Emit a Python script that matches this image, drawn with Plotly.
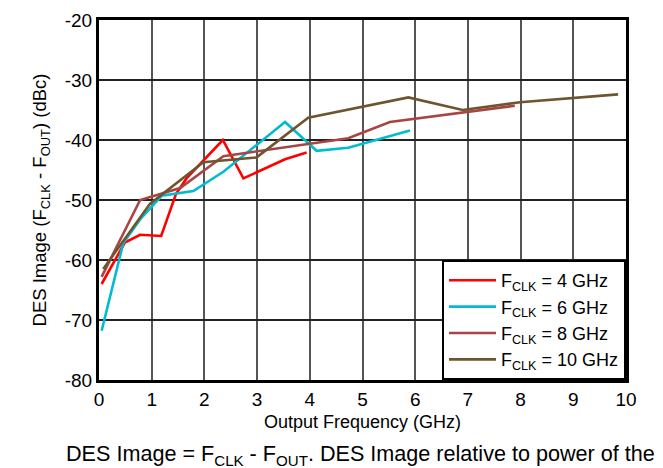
import plotly.graph_objects as go

# output frequency (GHz) / DES image (dBc) per clock rate
f_4g = [0.05, 0.49, 0.78, 1.18, 1.46, 1.66, 2.35, 2.74, 3.53, 3.94]
d_4g = [-64.0, -57.1, -55.8, -56.0, -49.0, -46.4, -40.0, -46.4, -43.2, -42.1]

f_6g = [0.05, 0.46, 0.8, 1.19, 1.79, 2.36, 3.53, 4.13, 4.73, 5.9]
d_6g = [-71.8, -57.2, -53.0, -49.3, -48.5, -45.3, -37.0, -41.8, -41.3, -38.4]

f_8g = [0.05, 0.78, 1.54, 2.36, 4.73, 5.52, 7.89]
d_8g = [-62.8, -50.0, -48.0, -42.7, -39.7, -37.0, -34.3]

f_10g = [0.08, 0.97, 1.98, 2.99, 3.97, 5.87, 6.9, 7.99, 9.85]
d_10g = [-61.5, -50.6, -43.7, -42.9, -36.3, -32.9, -35.0, -33.7, -32.4]

names = ["F<sub>CLK</sub> = 4 GHz", "F<sub>CLK</sub> = 6 GHz",
         "F<sub>CLK</sub> = 8 GHz", "F<sub>CLK</sub> = 10 GHz"]
colors = ["#ff0000", "#00bcd0", "#a84444", "#6e5530"]

x_ticks = list(range(0, 11))
y_ticks = [-80, -70, -60, -50, -40, -30, -20]
y_labels = ["-80", "-70", "-60", "-50", "-40", "-30", "-20"]

FONT = "Liberation Sans, Arial, sans-serif"

fig = go.Figure()
for xs, ys, nm, c in zip([f_4g, f_6g, f_8g, f_10g], [d_4g, d_6g, d_8g, d_10g], names, colors):
    fig.add_trace(go.Scatter(x=xs, y=ys, mode="lines", name=nm,
                             line=dict(color=c, width=2.6)))

fig.update_xaxes(range=[0, 10], tickvals=x_ticks, showgrid=True, gridcolor="#555", gridwidth=1.5,
                 showline=True, linecolor="black", linewidth=3, mirror=True, automargin=False,
                 zeroline=False, ticks="", tickfont=dict(size=19, color="black"),
                 title=dict(text="Output Frequency (GHz)", font=dict(size=18, color="black"),
                            standoff=7))
fig.update_yaxes(range=[-80, -20], tickvals=y_ticks, ticktext=y_labels,
                 showgrid=True, gridcolor="#222", gridwidth=1.5,
                 showline=True, linecolor="black", linewidth=3, mirror=True, automargin=False,
                 zeroline=False, ticks="", tickfont=dict(size=19, color="black"),
                 title=dict(text="DES Image (F<sub>CLK</sub> - F<sub>OUT</sub>) (dBc)",
                            font=dict(size=18.5, color="black"), standoff=14))

fig.add_annotation(text="DES Image = F<sub>CLK</sub> - F<sub>OUT</sub>. DES Image relative to power of the",
                   xref="paper", yref="paper", x=0.497, y=-0.208, xanchor="center", yanchor="middle",
                   showarrow=False, font=dict(size=21.6, color="black", family=FONT))

# page body adds an 8px offset, so margins are shifted to keep the plot area in place
fig.update_layout(
    width=663, height=468,
    margin=dict(l=91, r=45, t=12, b=96),
    paper_bgcolor="white", plot_bgcolor="white",
    font=dict(family=FONT, color="black"),
    legend=dict(x=1, y=0, xanchor="right", yanchor="bottom",
                bgcolor="white", bordercolor="black", borderwidth=2,
                font=dict(size=18, color="black"), tracegroupgap=0,
                itemwidth=47),
    showlegend=True,
)

fig.write_html("out.html")
